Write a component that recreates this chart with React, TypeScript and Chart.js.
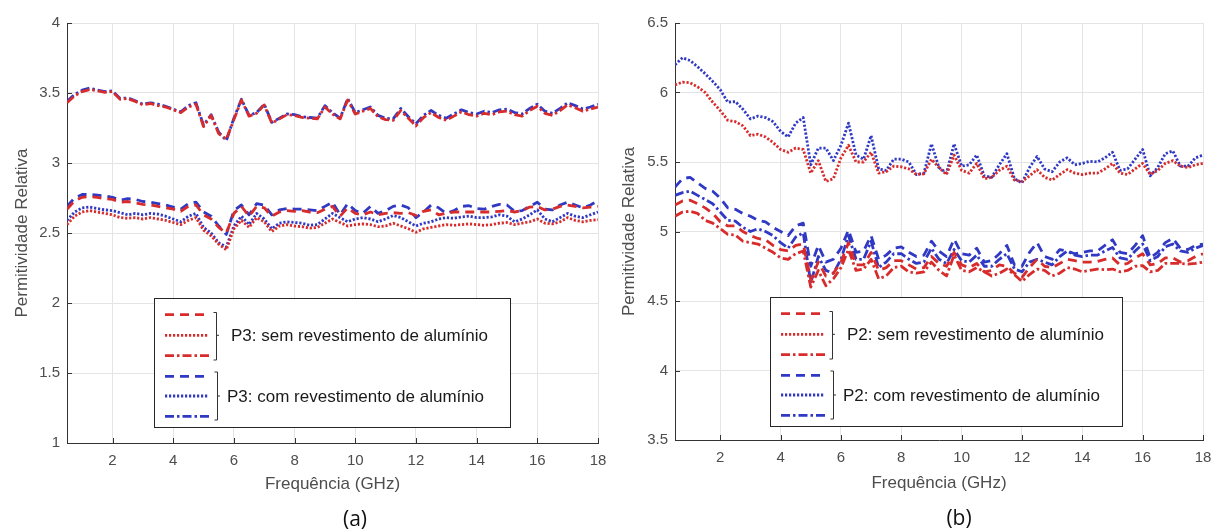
import React, { useEffect, useRef } from "react";
import { Chart, registerables } from "chart.js";

Chart.register(...registerables);

// ---------- DATA ----------
const FREQ = [
  0.5, 0.75, 1.0, 1.25, 1.5, 1.75, 2.0, 2.25, 2.5, 2.75,
  3.0, 3.25, 3.5, 3.75, 4.0, 4.25, 4.5, 4.75, 5.0, 5.25,
  5.5, 5.75, 6.0, 6.25, 6.5, 6.75, 7.0, 7.25, 7.5, 7.75,
  8.0, 8.25, 8.5, 8.75, 9.0, 9.25, 9.5, 9.75, 10.0, 10.25,
  10.5, 10.75, 11.0, 11.25, 11.5, 11.75, 12.0, 12.25, 12.5, 12.75,
  13.0, 13.25, 13.5, 13.75, 14.0, 14.25, 14.5, 14.75, 15.0, 15.25,
  15.5, 15.75, 16.0, 16.25, 16.5, 16.75, 17.0, 17.25, 17.5, 17.75,
  18.0,
];

const X_TICKS = [2, 4, 6, 8, 10, 12, 14, 16, 18];
const A_Y_TICKS = [1, 1.5, 2, 2.5, 3, 3.5, 4];
const B_Y_TICKS = [3.5, 4, 4.5, 5, 5.5, 6, 6.5];

const X_TITLE = "Frequência (GHz)";
const Y_TITLE = "Permitividade Relativa";
const A_LEGEND = ["P3: sem revestimento de alumínio", "P3: com revestimento de alumínio"];
const B_LEGEND = ["P2: sem revestimento de alumínio", "P2: com revestimento de alumínio"];
const CAPTIONS = ["(a)", "(b)"];

// Panel (a) — P3
const A_RED_DASH = [
  2.67, 2.73, 2.755, 2.76, 2.755, 2.745, 2.74, 2.72, 2.725, 2.715,
  2.705, 2.7, 2.69, 2.68, 2.67, 2.655, 2.69, 2.70, 2.63, 2.6,
  2.54, 2.5, 2.64, 2.69, 2.62, 2.69, 2.68, 2.62, 2.65, 2.66,
  2.655, 2.66, 2.65, 2.645, 2.67, 2.69, 2.62, 2.68, 2.64, 2.63,
  2.65, 2.63, 2.64, 2.645, 2.64, 2.645, 2.625, 2.655, 2.665, 2.63,
  2.64, 2.65, 2.65, 2.65, 2.65, 2.65, 2.65, 2.655, 2.66, 2.65,
  2.66, 2.685, 2.69, 2.665, 2.67, 2.69, 2.70, 2.69, 2.68, 2.685,
  2.69,
];
const A_RED_DOT = [
  2.56, 2.62, 2.65, 2.66, 2.65, 2.64, 2.63, 2.61, 2.605, 2.61,
  2.60, 2.61, 2.6, 2.59, 2.575, 2.56, 2.59, 2.61, 2.52, 2.48,
  2.42, 2.38, 2.53, 2.59, 2.54, 2.61, 2.58, 2.51, 2.55, 2.56,
  2.55, 2.545, 2.535, 2.54, 2.57, 2.6, 2.575, 2.55, 2.56, 2.565,
  2.56, 2.545, 2.55, 2.57, 2.55, 2.53, 2.505, 2.53, 2.54, 2.55,
  2.56, 2.555, 2.56, 2.565, 2.56, 2.555, 2.56, 2.57, 2.575, 2.56,
  2.57, 2.58, 2.6, 2.57, 2.565, 2.58, 2.61, 2.59, 2.58, 2.59,
  2.595,
];
const A_RED_DASHDOT = [
  3.43, 3.48, 3.51, 3.525, 3.515, 3.505, 3.51, 3.455, 3.46, 3.44,
  3.415, 3.425, 3.41, 3.4, 3.38, 3.36, 3.4, 3.42, 3.26, 3.34,
  3.21, 3.17, 3.31, 3.45, 3.335, 3.355, 3.415, 3.285, 3.315, 3.345,
  3.34, 3.325, 3.32, 3.315, 3.4, 3.35, 3.315, 3.45, 3.35, 3.37,
  3.39, 3.33, 3.31, 3.305, 3.375, 3.32, 3.265, 3.325, 3.36, 3.325,
  3.305, 3.335, 3.365, 3.345, 3.335, 3.355, 3.345, 3.365, 3.37, 3.345,
  3.335, 3.375, 3.405, 3.355, 3.34, 3.375, 3.415, 3.395, 3.37, 3.385,
  3.4,
];
const A_BLUE_DASH = [
  2.69, 2.75, 2.775, 2.775, 2.77, 2.765, 2.755, 2.735, 2.745, 2.74,
  2.725, 2.72, 2.71, 2.7, 2.685, 2.67, 2.71, 2.72, 2.65, 2.62,
  2.55, 2.49, 2.66, 2.7, 2.63, 2.71, 2.7, 2.63, 2.665, 2.675,
  2.67, 2.67, 2.665, 2.66, 2.69, 2.72, 2.63, 2.71, 2.66, 2.64,
  2.69, 2.64, 2.66, 2.69, 2.70, 2.68, 2.61, 2.65, 2.7, 2.68,
  2.64, 2.66, 2.69, 2.695, 2.675, 2.67, 2.69, 2.705, 2.7, 2.655,
  2.66, 2.69, 2.72, 2.67, 2.665, 2.7, 2.72, 2.7, 2.68, 2.7,
  2.73,
];
const A_BLUE_DOT = [
  2.59, 2.65, 2.68, 2.685, 2.675, 2.665, 2.66, 2.645, 2.63, 2.64,
  2.63, 2.64, 2.635, 2.62, 2.6, 2.58, 2.62, 2.64, 2.54, 2.5,
  2.43, 2.4, 2.55, 2.62, 2.56, 2.64, 2.6, 2.53, 2.57, 2.58,
  2.575, 2.57, 2.555, 2.56, 2.6, 2.64, 2.61, 2.58, 2.6, 2.61,
  2.6, 2.58, 2.6, 2.625, 2.61, 2.58, 2.55, 2.57, 2.58, 2.6,
  2.61, 2.605, 2.615, 2.62, 2.61, 2.61, 2.615, 2.63, 2.62, 2.58,
  2.6, 2.63, 2.665, 2.6, 2.58, 2.61, 2.64, 2.62, 2.61, 2.63,
  2.65,
];
const A_BLUE_DASHDOT = [
  3.44, 3.49, 3.52, 3.535, 3.52, 3.51, 3.515, 3.46, 3.465, 3.445,
  3.42, 3.43, 3.42, 3.405, 3.385, 3.365, 3.41, 3.43, 3.27, 3.345,
  3.22, 3.16, 3.32, 3.455, 3.34, 3.36, 3.42, 3.29, 3.32, 3.35,
  3.345, 3.33, 3.325, 3.32, 3.41, 3.36, 3.32, 3.46, 3.36, 3.38,
  3.40, 3.34, 3.32, 3.315, 3.39, 3.33, 3.28, 3.34, 3.375, 3.34,
  3.32, 3.35, 3.38, 3.36, 3.35, 3.37, 3.36, 3.38, 3.385, 3.36,
  3.35, 3.39, 3.42, 3.37, 3.355, 3.39, 3.43, 3.41, 3.385, 3.4,
  3.42,
];

// Panel (b) — P2
const B_RED_DASH = [
  5.19, 5.22, 5.225, 5.2, 5.17, 5.13, 5.07, 5.04, 5.04, 5.0,
  4.97, 4.95, 4.94, 4.9, 4.87, 4.86, 4.9, 4.91, 4.65, 4.78,
  4.68, 4.7, 4.78, 4.92, 4.76, 4.76, 4.85, 4.72, 4.74, 4.79,
  4.79, 4.76, 4.73, 4.74, 4.82, 4.77, 4.75, 4.85, 4.76, 4.74,
  4.77, 4.71, 4.72, 4.76, 4.75, 4.7, 4.67, 4.74, 4.8, 4.75,
  4.74, 4.77, 4.8, 4.79, 4.78, 4.78, 4.785, 4.8, 4.81, 4.76,
  4.77, 4.81, 4.84, 4.76, 4.77, 4.81, 4.81, 4.78, 4.79, 4.82,
  4.84,
];
const B_RED_DOT = [
  6.055, 6.075, 6.07, 6.04, 6.0, 5.93, 5.87, 5.8, 5.79, 5.76,
  5.69, 5.7, 5.68, 5.64, 5.59, 5.57, 5.6, 5.59, 5.42, 5.51,
  5.36, 5.38, 5.53, 5.62, 5.5, 5.5, 5.57, 5.42, 5.43, 5.47,
  5.465, 5.45, 5.41, 5.415, 5.52, 5.46, 5.41, 5.55, 5.44, 5.42,
  5.49, 5.38, 5.39, 5.44, 5.47, 5.37, 5.36, 5.4, 5.445, 5.39,
  5.37, 5.41, 5.445, 5.42, 5.41, 5.42, 5.42, 5.45, 5.49, 5.42,
  5.41, 5.45, 5.49, 5.41, 5.44, 5.49, 5.51, 5.47, 5.46, 5.48,
  5.49,
];
const B_RED_DASHDOT = [
  5.11, 5.14, 5.145, 5.13, 5.08, 5.06, 5.02, 4.98, 4.975, 4.93,
  4.92, 4.91, 4.88, 4.85, 4.81, 4.8, 4.84, 4.86, 4.6, 4.72,
  4.61, 4.66, 4.74, 4.87, 4.72, 4.73, 4.8, 4.66, 4.68, 4.74,
  4.75, 4.71, 4.7, 4.71, 4.78, 4.72, 4.68, 4.83, 4.72, 4.71,
  4.74, 4.71, 4.68, 4.7, 4.73, 4.69, 4.64, 4.69, 4.73, 4.72,
  4.68, 4.7, 4.74, 4.73, 4.71, 4.72, 4.73, 4.725, 4.73, 4.71,
  4.72, 4.75, 4.755, 4.71, 4.72, 4.77, 4.77, 4.77, 4.765, 4.77,
  4.78,
];
const B_BLUE_DASH = [
  5.32, 5.38, 5.39, 5.35, 5.31, 5.29, 5.24, 5.17, 5.16, 5.13,
  5.11, 5.08, 5.07, 5.03, 5.0, 4.97, 5.04, 5.06, 4.75, 4.9,
  4.78, 4.8, 4.88, 5.01, 4.85, 4.86, 4.97, 4.8, 4.83, 4.88,
  4.89, 4.85, 4.82, 4.83, 4.93, 4.86, 4.82, 4.945, 4.84, 4.83,
  4.88, 4.78, 4.79, 4.84, 4.9, 4.76, 4.75, 4.85, 4.92, 4.82,
  4.8, 4.87, 4.86, 4.84, 4.85, 4.86, 4.86, 4.9, 4.94, 4.85,
  4.84, 4.9, 4.97, 4.81, 4.85, 4.92, 4.95, 4.88, 4.87, 4.9,
  4.91,
];
const B_BLUE_DOT = [
  6.2, 6.25, 6.23, 6.185, 6.135, 6.08, 6.02, 5.93, 5.935, 5.88,
  5.81, 5.83, 5.82, 5.79, 5.72, 5.68, 5.78, 5.82, 5.48, 5.6,
  5.6, 5.51, 5.62, 5.78, 5.55, 5.52, 5.69, 5.45, 5.44, 5.52,
  5.52, 5.5, 5.41, 5.42, 5.63, 5.46, 5.42, 5.63, 5.47, 5.48,
  5.55, 5.4, 5.39, 5.48, 5.56, 5.38, 5.35, 5.46, 5.54, 5.45,
  5.43, 5.5, 5.53, 5.48, 5.49, 5.505, 5.5, 5.53, 5.57, 5.44,
  5.45, 5.52, 5.59, 5.4, 5.46, 5.56, 5.58, 5.47, 5.47, 5.53,
  5.55,
];
const B_BLUE_DASHDOT = [
  5.26, 5.28, 5.29, 5.26, 5.23, 5.2, 5.14, 5.08, 5.075, 5.03,
  5.0, 5.02, 5.0, 4.97, 4.92, 4.88, 4.96, 4.99, 4.63, 4.82,
  4.72, 4.7, 4.8, 4.97, 4.8, 4.8, 4.93, 4.74, 4.78, 4.84,
  4.84, 4.8, 4.77, 4.78, 4.88, 4.8, 4.77, 4.87, 4.79, 4.78,
  4.83, 4.75, 4.75, 4.8, 4.84, 4.73, 4.71, 4.78, 4.8, 4.78,
  4.76, 4.82, 4.86, 4.83, 4.82, 4.83, 4.83, 4.86, 4.885, 4.81,
  4.8, 4.86, 4.91, 4.79, 4.82, 4.89, 4.91, 4.86, 4.85, 4.88,
  4.9,
];

// ---------- STYLE ----------
const RED = "#d82c2c";
const BLUE = "#3039c4";
const DASH = [9, 6];
const DOT = [2.2, 1.8];
const DASHDOT = [9, 3, 2.5, 3];
const LINE_W = 2.8;
const FONT = "'Liberation Sans', Arial, Helvetica, sans-serif";
const AXIS_TEXT = "#4d4d4d";

type Series = { values: number[]; color: string; dash: number[] };

type PanelCfg = {
  left: number;
  yMin: number;
  yMax: number;
  yTicks: number[];
  yAxisWidth: number;
  xAxisHeight: number;
  padRight: number;
  titlePadBottom: number;
  legend: { left: number; top: number; width: number; height: number };
  legendText: string[];
  series: Series[];
};

const PANELS: PanelCfg[] = [
  {
    left: 0,
    yMin: 1,
    yMax: 4,
    yTicks: A_Y_TICKS,
    yAxisWidth: 67,
    xAxisHeight: 89,
    padRight: 9,
    titlePadBottom: 37,
    legend: { left: 154, top: 298, width: 356, height: 129 },
    legendText: A_LEGEND,
    series: [
      { values: A_RED_DASH, color: RED, dash: DASH },
      { values: A_RED_DOT, color: RED, dash: DOT },
      { values: A_RED_DASHDOT, color: RED, dash: DASHDOT },
      { values: A_BLUE_DASH, color: BLUE, dash: DASH },
      { values: A_BLUE_DOT, color: BLUE, dash: DOT },
      { values: A_BLUE_DASHDOT, color: BLUE, dash: DASHDOT },
    ],
  },
  {
    left: 607,
    yMin: 3.5,
    yMax: 6.5,
    yTicks: B_Y_TICKS,
    yAxisWidth: 68,
    xAxisHeight: 92,
    padRight: 11,
    titlePadBottom: 38,
    legend: { left: 163, top: 297, width: 352, height: 129 },
    legendText: B_LEGEND,
    series: [
      { values: B_RED_DASH, color: RED, dash: DASH },
      { values: B_RED_DOT, color: RED, dash: DOT },
      { values: B_RED_DASHDOT, color: RED, dash: DASHDOT },
      { values: B_BLUE_DASH, color: BLUE, dash: DASH },
      { values: B_BLUE_DOT, color: BLUE, dash: DOT },
      { values: B_BLUE_DASHDOT, color: BLUE, dash: DASHDOT },
    ],
  },
];

const ROW_OFFSETS = [16.6, 37.3, 57.6, 78.3, 98, 118.3];

const innerTicksPlugin = {
  id: "innerTicks",
  afterDraw(chart: any) {
    const { ctx, chartArea } = chart;
    const xs = chart.scales.x;
    const ys = chart.scales.y;
    ctx.save();
    ctx.strokeStyle = "#333";
    ctx.lineWidth = 1;
    ctx.beginPath();
    xs.ticks.forEach((t: any) => {
      const px = Math.round(xs.getPixelForValue(t.value)) + 0.5;
      ctx.moveTo(px, chartArea.bottom);
      ctx.lineTo(px, chartArea.bottom - 5);
    });
    ys.ticks.forEach((t: any) => {
      const py = Math.round(ys.getPixelForValue(t.value)) + 0.5;
      ctx.moveTo(chartArea.left, py);
      ctx.lineTo(chartArea.left + 5, py);
    });
    ctx.stroke();
    ctx.restore();
  },
};

function makeLegendPlugin(cfg: PanelCfg) {
  return {
    id: "bracketLegend",
    afterDraw(chart: any) {
      const ctx = chart.ctx;
      const L = cfg.legend;
      ctx.save();
      ctx.fillStyle = "#ffffff";
      ctx.fillRect(L.left, L.top, L.width, L.height);
      ctx.strokeStyle = "#262626";
      ctx.lineWidth = 1;
      ctx.setLineDash([]);
      ctx.strokeRect(L.left + 0.5, L.top + 0.5, L.width, L.height);

      cfg.series.forEach((s, i) => {
        const y = L.top + ROW_OFFSETS[i];
        ctx.strokeStyle = s.color;
        ctx.lineWidth = LINE_W;
        ctx.setLineDash(s.dash);
        ctx.lineCap = "butt";
        ctx.beginPath();
        ctx.moveTo(L.left + 11, y);
        ctx.lineTo(L.left + 55, y);
        ctx.stroke();
      });

      ctx.setLineDash([]);
      ctx.strokeStyle = "#333";
      ctx.lineWidth = 1;
      const groups = [
        { y0: L.top + 14.5, y1: L.top + 62, mid: L.top + ROW_OFFSETS[1], x: L.left + 62.5, tx: L.left + 77 },
        { y0: L.top + 74, y1: L.top + 122, mid: L.top + ROW_OFFSETS[4], x: L.left + 63.5, tx: L.left + 73 },
      ];
      ctx.font = `17px ${FONT}`;
      ctx.textBaseline = "middle";
      ctx.textAlign = "left";
      groups.forEach((g, gi) => {
        ctx.beginPath();
        ctx.moveTo(g.x - 3, g.y0);
        ctx.lineTo(g.x, g.y0);
        ctx.lineTo(g.x, g.y1);
        ctx.lineTo(g.x - 3, g.y1);
        ctx.moveTo(g.x, g.mid);
        ctx.lineTo(g.x + 2.5, g.mid);
        ctx.stroke();
        ctx.fillStyle = "#1a1a1a";
        ctx.fillText(cfg.legendText[gi], g.tx, g.mid + 1);
      });
      ctx.restore();
    },
  };
}

function Panel({ cfg }: { cfg: PanelCfg }) {
  const ref = useRef<HTMLCanvasElement | null>(null);
  useEffect(() => {
    if (!ref.current) return;
    const chart = new Chart(ref.current, {
      type: "line",
      data: {
        datasets: cfg.series.map((s) => ({
          data: FREQ.map((f, i) => ({ x: f, y: s.values[i] })),
          borderColor: s.color,
          borderWidth: LINE_W,
          borderDash: s.dash,
          borderCapStyle: "butt",
          borderJoinStyle: "round",
          pointRadius: 0,
          tension: 0,
          fill: false,
        })),
      },
      options: {
        animation: false,
        responsive: false,
        devicePixelRatio: 1,
        events: [],
        layout: { padding: { top: 23, right: cfg.padRight, bottom: 0, left: 0 } },
        plugins: { legend: { display: false }, tooltip: { enabled: false } },
        scales: {
          x: {
            type: "linear",
            min: 0.5,
            max: 18,
            afterBuildTicks: (sc: any) => {
              sc.ticks = X_TICKS.map((v) => ({ value: v }));
            },
            afterFit: (sc: any) => {
              sc.height = cfg.xAxisHeight;
              sc.paddingLeft = 0;
              sc.paddingRight = 0;
            },
            grid: { color: "#e4e4e4", lineWidth: 1, drawTicks: false },
            border: { display: true, color: "#333", width: 1 },
            ticks: {
              padding: 9,
              color: AXIS_TEXT,
              font: { family: FONT, size: 15 },
              maxRotation: 0,
              callback: (v: any) => String(v),
            },
            title: {
              display: true,
              text: X_TITLE,
              color: AXIS_TEXT,
              font: { family: FONT, size: 17 },
              padding: { top: 0, bottom: cfg.titlePadBottom },
            },
          },
          y: {
            type: "linear",
            min: cfg.yMin,
            max: cfg.yMax,
            afterBuildTicks: (sc: any) => {
              sc.ticks = cfg.yTicks.map((v) => ({ value: v }));
            },
            afterFit: (sc: any) => {
              sc.width = cfg.yAxisWidth;
              sc.paddingTop = 0;
              sc.paddingBottom = 0;
            },
            grid: { color: "#e4e4e4", lineWidth: 1, drawTicks: false },
            border: { display: true, color: "#333", width: 1 },
            ticks: {
              padding: 7,
              color: AXIS_TEXT,
              font: { family: FONT, size: 15 },
              callback: (v: any) => String(v),
            },
            title: {
              display: true,
              text: Y_TITLE,
              color: AXIS_TEXT,
              font: { family: FONT, size: 17 },
              padding: { top: 12, bottom: 0 },
            },
          },
        },
      } as any,
      plugins: [innerTicksPlugin, makeLegendPlugin(cfg)],
    });
    return () => chart.destroy();
  }, [cfg]);
  return (
    <canvas
      ref={ref}
      width={607}
      height={532}
      style={{ position: "absolute", left: cfg.left, top: 0, width: 607, height: 532, display: "block" }}
    />
  );
}

export default function App() {
  return (
    <div
      style={{
        position: "fixed",
        left: 0,
        top: 0,
        width: 1214,
        height: 532,
        background: "#ffffff",
        overflow: "hidden",
      }}
    >
      {PANELS.map((p, i) => (
        <Panel key={i} cfg={p} />
      ))}
      <div
        style={{
          position: "absolute",
          left: 355,
          top: 518,
          transform: "translate(-50%, -50%)",
          fontFamily: "'Open Sans', 'Noto Sans', sans-serif",
          fontSize: 21,
          color: "#111",
          lineHeight: 1,
        }}
      >
        {CAPTIONS[0]}
      </div>
      <div
        style={{
          position: "absolute",
          left: 959,
          top: 517,
          transform: "translate(-50%, -50%)",
          fontFamily: "'Open Sans', 'Noto Sans', sans-serif",
          fontSize: 21,
          color: "#111",
          lineHeight: 1,
        }}
      >
        {CAPTIONS[1]}
      </div>
    </div>
  );
}
